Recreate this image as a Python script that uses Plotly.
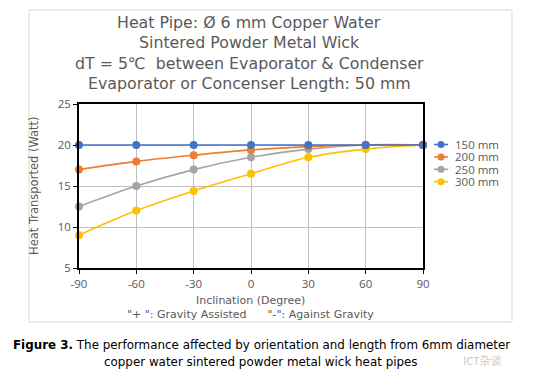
import plotly.graph_objects as go

inclination = [-90, -60, -30, 0, 30, 60, 90]
series_names = ["150 mm", "200 mm", "250 mm", "300 mm"]
heat_150 = [20, 20, 20, 20, 20, 20, 20]
heat_200 = [17, 18, 18.75, 19.4, 19.8, 20, 20]
heat_250 = [12.5, 15, 17, 18.5, 19.5, 20, 20]
heat_300 = [9, 12, 14.4, 16.5, 18.5, 19.5, 20]
colors = ["#4472C4", "#ED7D31", "#A5A5A5", "#FFC000"]
x_ticks = [-90, -60, -30, 0, 30, 60, 90]
x_tick_labels = ["-90", "-60", "-30", "0", "30", "60", "90"]
y_ticks = [5, 10, 15, 20, 25]
y_tick_labels = ["5", "10", "15", "20", "25"]

W, H = 540, 380
L, R, T, B = 79, 423, 104, 268


def px(x):
    return (x - L) / (R - L)


def py(y):
    return (B - y) / (B - T)


fig = go.Figure()
all_series = [heat_150, heat_200, heat_250, heat_300]
# draw back-to-front so blue is on top
for name, vals, col in reversed(list(zip(series_names, all_series, colors))):
    fig.add_trace(go.Scatter(
        x=inclination, y=vals, name=name, mode="lines+markers",
        line=dict(color=col, width=1.6, shape="spline", smoothing=1.0),
        marker=dict(color=col, size=8),
        cliponaxis=False, showlegend=False,
    ))

grey_txt = "#595959"
fig.update_layout(
    width=W, height=H,
    margin=dict(l=L, r=W - R, t=T, b=H - B),
    paper_bgcolor="white", plot_bgcolor="white",
    font=dict(family="DejaVu Sans", color=grey_txt),
    xaxis=dict(range=[-90, 90], tickvals=x_ticks, ticktext=x_tick_labels, showgrid=True,
               gridcolor="#bfbfbf", gridwidth=1, zeroline=False, showline=True, linecolor="black",
               linewidth=1.5, mirror=True, ticks="outside", ticklen=4, tickcolor="black",
               tickfont=dict(family="Open Sans", size=11.5, color=grey_txt)),
    yaxis=dict(range=[5, 25], tickvals=y_ticks, ticktext=y_tick_labels, showgrid=True,
               gridcolor="#bfbfbf", gridwidth=1, zeroline=False, showline=True, linecolor="black",
               linewidth=1.5, mirror=True, ticks="outside", ticklen=4, tickcolor="black",
               tickfont=dict(family="Open Sans", size=11.5, color=grey_txt)),
)

shapes = []
annots = []
# outer chart border
shapes.append(dict(type="rect", xref="paper", yref="paper", x0=px(29), x1=px(512),
                   y0=py(322), y1=py(10), line=dict(color="#d9d9d9", width=1), layer="below"))

title_lines = ["Heat Pipe: Ø 6 mm Copper Water", "Sintered Powder Metal Wick",
               "dT = 5℃  between Evaporator &amp; Condenser",
               "Evaporator or Concenser Length: 50 mm"]
title_y = [22, 42.5, 63, 83.5]
for t, yy in zip(title_lines, title_y):
    annots.append(dict(text=t, xref="paper", yref="paper", x=px(249), y=py(yy),
                       xanchor="center", yanchor="middle", showarrow=False,
                       font=dict(family="DejaVu Sans", size=15.8, color=grey_txt)))

# axis titles
annots.append(dict(text="Heat Transported (Watt)", xref="paper", yref="paper", x=px(34), y=py(186),
                   textangle=-90, xanchor="center", yanchor="middle", showarrow=False,
                   font=dict(family="DejaVu Sans", size=11.5, color=grey_txt)))
annots.append(dict(text="Inclination (Degree)", xref="paper", yref="paper", x=px(250), y=py(300),
                   xanchor="center", yanchor="middle", showarrow=False,
                   font=dict(family="DejaVu Sans", size=11, color=grey_txt)))
annots.append(dict(text="\"+ \": Gravity Assisted      \"-\": Against Gravity", xref="paper", yref="paper",
                   x=px(250), y=py(314), xanchor="center", yanchor="middle", showarrow=False,
                   font=dict(family="DejaVu Sans", size=11, color=grey_txt)))

# legend
for i, (name, col) in enumerate(zip(series_names, colors)):
    yy = 144.5 + 12.4 * i
    shapes.append(dict(type="line", xref="paper", yref="paper", x0=px(434), x1=px(448),
                       y0=py(yy), y1=py(yy), line=dict(color=col, width=1.6)))
    shapes.append(dict(type="circle", xref="paper", yref="paper", x0=px(437.5), x1=px(444.5),
                       y0=py(yy + 3.5), y1=py(yy - 3.5), fillcolor=col, line=dict(color=col, width=0)))
    annots.append(dict(text=name, xref="paper", yref="paper", x=px(454), y=py(yy),
                       xanchor="left", yanchor="middle", showarrow=False, borderpad=0,
                       font=dict(family="Open Sans", size=11.5, color=grey_txt)))

# caption
annots.append(dict(text="<b>Figure 3.</b> The performance affected by orientation and length from 6mm diameter",
                   xref="paper", yref="paper", x=px(261), y=py(345), xanchor="center", yanchor="middle",
                   showarrow=False, font=dict(family="DejaVu Sans", size=11.9, color="black")))
annots.append(dict(text="copper water sintered powder metal wick heat pipes",
                   xref="paper", yref="paper", x=px(261), y=py(362), xanchor="center", yanchor="middle",
                   showarrow=False, font=dict(family="DejaVu Sans", size=11.9, color="black")))
# watermark
annots.append(dict(text="ICT杂谈", xref="paper", yref="paper", x=px(482), y=py(360), xanchor="center",
                   yanchor="middle", showarrow=False,
                   font=dict(family="Noto Sans CJK SC", size=11, color="#c8c8c8")))

fig.update_layout(shapes=shapes, annotations=annots)
fig.write_html("out.html", config={"displayModeBar": False},
               post_script="document.body.style.margin='0';")
